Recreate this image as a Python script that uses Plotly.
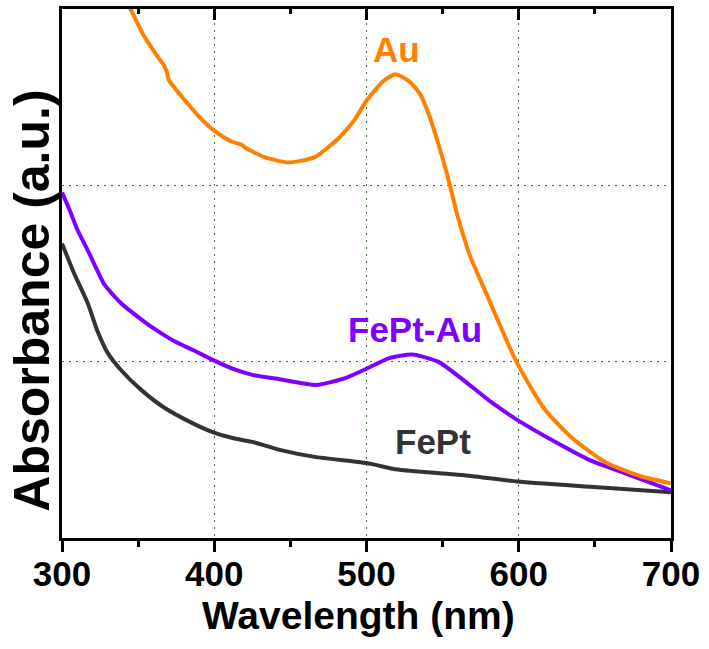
import plotly.graph_objects as go

# UV-vis spectra (arbitrary units)
wl_au = [340, 345, 353, 362, 367, 369, 370, 381, 390, 400, 411, 418, 421, 433, 449,
         466, 482, 492, 500, 511, 519, 528, 535, 541, 547, 553, 560, 568, 578, 591,
         599, 617, 636, 658, 680, 700]
abs_au = [3.08, 3.0, 2.86, 2.74, 2.68, 2.64, 2.60, 2.48, 2.39, 2.31, 2.25, 2.23, 2.21, 2.16, 2.13,
          2.16, 2.27, 2.37, 2.48, 2.59, 2.63, 2.59, 2.52, 2.40, 2.24, 2.06, 1.82, 1.60, 1.40, 1.14,
          0.99, 0.73, 0.56, 0.425, 0.35, 0.31]

wl_fept_au = [300, 305, 310, 317, 323, 328, 339, 352, 360, 373, 386, 399, 412, 425, 443,
              467, 487, 500, 515, 530, 547, 563, 582, 599, 625, 647, 669, 700]
abs_fept_au = [1.96, 1.86, 1.75, 1.63, 1.52, 1.435, 1.33, 1.24, 1.19, 1.12, 1.066, 1.01, 0.96, 0.925, 0.90,
               0.868, 0.91, 0.96, 1.02, 1.04, 1.00, 0.90, 0.77, 0.67, 0.54, 0.44, 0.37, 0.27]

wl_fept = [300, 308, 317, 323, 330, 339, 352, 367, 386, 399, 412, 425, 443, 466, 500,
           519, 530, 563, 599, 647, 700]
abs_fept = [1.67, 1.50, 1.33, 1.18, 1.05, 0.95, 0.84, 0.74, 0.65, 0.60, 0.567, 0.545, 0.50, 0.46, 0.425,
            0.39, 0.38, 0.357, 0.32, 0.29, 0.26]

x_ticks = [300, 400, 500, 600, 700]

ORANGE = '#FF8000'
VIOLET = '#8000FF'
DARK = '#333333'
GRID = '#2f6e2f'
FONT = 'Liberation Sans, Arial'

fig = go.Figure()

line_kw = dict(width=4, shape='spline', smoothing=0.6)
fig.add_trace(go.Scatter(x=wl_fept, y=abs_fept, mode='lines', line=dict(color=DARK, **line_kw), name='FePt'))
fig.add_trace(go.Scatter(x=wl_fept_au, y=abs_fept_au, mode='lines', line=dict(color=VIOLET, **line_kw), name='FePt-Au'))
fig.add_trace(go.Scatter(x=wl_au, y=abs_au, mode='lines', line=dict(color=ORANGE, **line_kw), name='Au'))
# invisible trace so the top (mirror) axis gets drawn
fig.add_trace(go.Scatter(x=wl_fept, y=abs_fept, xaxis='x2', mode='lines', opacity=0,
                         hoverinfo='skip', showlegend=False))

fig.update_layout(
    width=709, height=649,
    margin=dict(l=62, r=31, t=9, b=111),
    plot_bgcolor='white', paper_bgcolor='white',
    showlegend=False,
    xaxis=dict(range=[300, 700], tickvals=x_ticks, ticks='outside', ticklen=11, tickwidth=3,
               tickcolor='black', showline=True, linewidth=3, linecolor='black',
               showgrid=True, gridcolor=GRID, gridwidth=1, griddash='2px,5px',
               tickfont=dict(family=FONT, size=35, color='black', weight='bold'),
               ticklabelstandoff=-8, ticklabeloverflow='allow', zeroline=False,
               minor=dict(dtick=50, tick0=300, ticks='outside', ticklen=6, tickwidth=3,
                          tickcolor='black', showgrid=False)),
    xaxis2=dict(range=[300, 700], overlaying='x', side='top', anchor='y', tickvals=x_ticks,
                ticks='inside', ticklen=11, tickwidth=3, tickcolor='black', showline=True,
                linewidth=3, linecolor='black', showticklabels=False, showgrid=False,
                zeroline=False,
                minor=dict(dtick=50, tick0=300, ticks='inside', ticklen=5, tickwidth=3,
                           tickcolor='black', showgrid=False)),
    yaxis=dict(range=[0, 3], dtick=1, showticklabels=False, ticks='', showline=True,
               linewidth=3, linecolor='black', mirror=True, showgrid=True,
               gridcolor=GRID, gridwidth=1, griddash='2px,5px', zeroline=False),
)

label_font = dict(family=FONT, size=35, weight='bold')
fig.add_annotation(x=519.5, y=2.77, text='Au', showarrow=False,
                   font=dict(label_font, color=ORANGE))
fig.add_annotation(x=532, y=1.185, text='FePt-Au', showarrow=False,
                   font=dict(label_font, color=VIOLET))
fig.add_annotation(x=543.5, y=0.545, text='FePt', showarrow=False,
                   font=dict(label_font, color=DARK))

fig.add_annotation(xref='paper', yref='paper', x=0.487, y=-0.146, text='Wavelength (nm)',
                   showarrow=False, yanchor='middle',
                   font=dict(family=FONT, size=39, color='black', weight='bold'))
fig.add_annotation(xref='paper', yref='paper', x=-0.099, y=0.448, text='Absorbance (a.u.)',
                   showarrow=False, textangle=-90, xanchor='left', yanchor='middle',
                   font=dict(family=FONT, size=50, color='black', weight='bold'))

# drop the default page margin so the 709x649 figure fills the window exactly
fig.write_html('out.html', config={'displayModeBar': False},
               post_script="document.body.style.margin='0';")
